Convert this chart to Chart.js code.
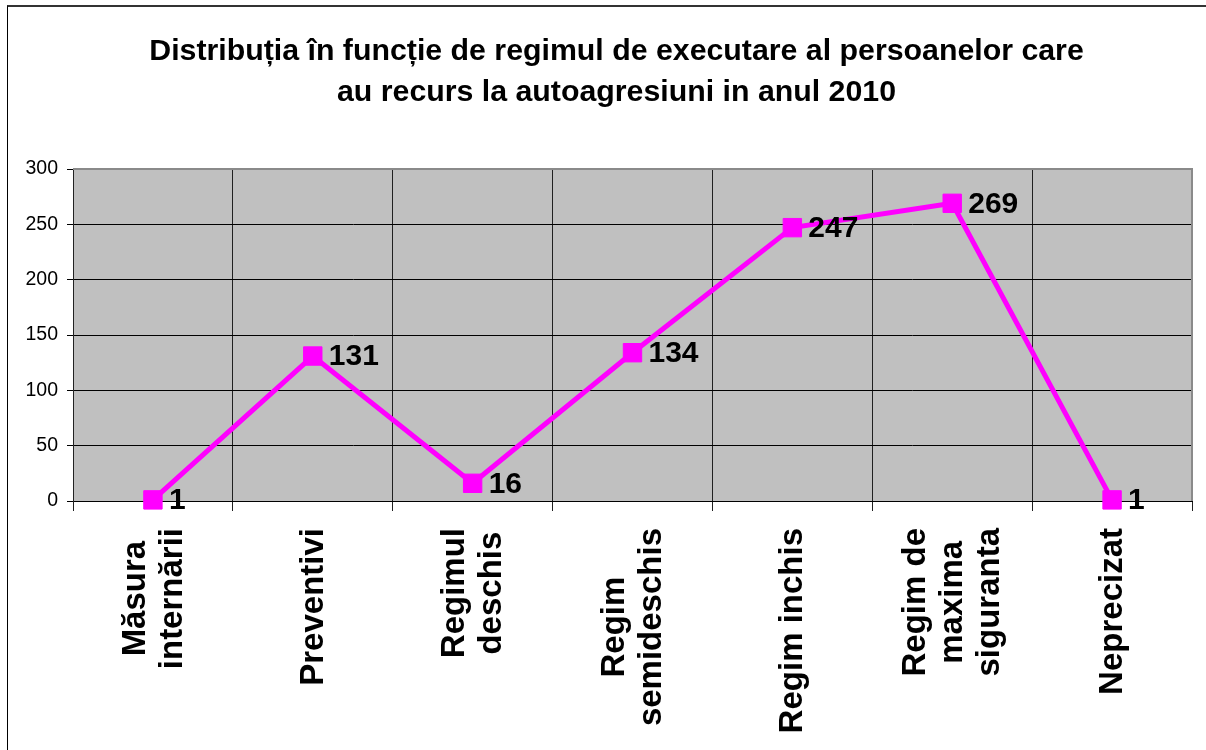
<!DOCTYPE html>
<html lang="ro">
<head>
  <meta charset="UTF-8" />
  <title>Distribuția în funcție de regimul de executare</title>
  <script src="https://cdn.jsdelivr.net/npm/chart.js"></script>
  <style>
    body { margin: 0; background: #fff; overflow: hidden; }
    #wrap { position: relative; width: 1206px; height: 750px; }
    #frame {
      position: absolute; left: 7px; top: 5px; width: 1300px; height: 800px;
      border-top: 2px solid #333; border-left: 1px solid #000;
      pointer-events: none;
    }
  </style>
</head>
<body>
  <div id="wrap">
    <canvas id="chart" width="1206" height="750"></canvas>
    <div id="frame"></div>
  </div>

  <script>
    // date
    const categories = [
      ['Măsura', 'internării'],
      ['Preventivi'],
      ['Regimul', 'deschis'],
      ['Regim', 'semideschis'],
      ['Regim inchis'],
      ['Regim de', 'maxima', 'siguranta'],
      ['Neprecizat']
    ];
    const values = [1, 131, 16, 134, 247, 269, 1];
    const yMin = 0;
    const yMax = 300;
    const yStep = 50;
    const titleLines = [
      'Distribuția în funcție de regimul de executare al persoanelor care',
      'au recurs la autoagresiuni in anul 2010'
    ];

    const FONT = "'Liberation Sans', Arial, sans-serif";

    // fundal gri al zonei de desen + chenar gri sus/dreapta
    const plotBg = {
      id: 'plotBg',
      afterLayout(chart) {
        // titlul e centrat putin mai la dreapta decat panza
        if (chart.titleBlock) chart.titleBlock.left = 39;
      },
      beforeDraw(chart) {
        const { ctx, chartArea: a } = chart;
        ctx.save();
        ctx.fillStyle = '#c0c0c0';
        ctx.fillRect(a.left, a.top, a.width, a.height);
        ctx.restore();
      },
      afterDraw(chart) {
        const { ctx, chartArea: a } = chart;
        ctx.save();
        ctx.strokeStyle = '#8a8a8a';
        ctx.lineWidth = 2;
        ctx.beginPath();
        ctx.moveTo(a.left, a.top);
        ctx.lineTo(a.right, a.top);
        ctx.lineTo(a.right, a.bottom);
        ctx.stroke();
        ctx.restore();
      }
    };

    // valorile langa puncte
    const pointLabels = {
      id: 'pointLabels',
      afterDatasetsDraw(chart) {
        const ctx = chart.ctx;
        const meta = chart.getDatasetMeta(0);
        ctx.save();
        ctx.font = 'bold 30px ' + FONT;
        ctx.fillStyle = '#000';
        ctx.textAlign = 'left';
        ctx.textBaseline = 'middle';
        meta.data.forEach((pt, i) => {
          ctx.fillText(String(values[i]), pt.x + 16, pt.y + 1);
        });
        ctx.restore();
      }
    };

    // etichetele axei X, rotite, cu randuri centrate
    const xLabels = {
      id: 'xLabels',
      afterDraw(chart) {
        const ctx = chart.ctx;
        const xs = chart.scales.x;
        const top = chart.chartArea.bottom + 27;
        const lh = 37;
        ctx.save();
        ctx.font = 'bold 33px ' + FONT;
        ctx.fillStyle = '#000';
        ctx.textAlign = 'center';
        ctx.textBaseline = 'middle';
        categories.forEach((lines, i) => {
          const maxW = Math.max(...lines.map(l => ctx.measureText(l).width));
          const x = xs.getPixelForValue(i) + 1;
          const yc = top + maxW / 2;
          ctx.save();
          ctx.translate(x, yc);
          ctx.rotate(-Math.PI / 2);
          lines.forEach((l, j) => {
            ctx.fillText(l, 0, (j - (lines.length - 1) / 2) * lh);
          });
          ctx.restore();
        });
        ctx.restore();
      }
    };

    const ctx = document.getElementById('chart').getContext('2d');
    const chart = new Chart(ctx, {
      type: 'line',
      data: {
        labels: categories,
        datasets: [{
          data: values,
          borderColor: '#ff00ff',
          backgroundColor: '#ff00ff',
          borderWidth: 5,
          pointStyle: 'rect',
          pointRadius: 13,
          pointBorderWidth: 1,
          pointBorderColor: '#ff00ff',
          pointBackgroundColor: '#ff00ff',
          tension: 0,
          clip: false
        }]
      },
      options: {
        responsive: false,
        animation: false,
        layout: { padding: { left: 20, right: 12, top: 10, bottom: 0 } },
        plugins: {
          legend: { display: false },
          tooltip: { enabled: false },
          title: {
            display: true,
            text: titleLines,
            color: '#000',
            font: { family: FONT, size: 30.3, weight: 'bold', lineHeight: 41 / 30.3 },
            padding: { top: 21, bottom: 56 }
          }
        },
        scales: {
          x: {
            offset: true,
            grid: { offset: true, color: '#202020', lineWidth: 1, tickLength: 10, drawTicks: true },
            border: { color: '#000', width: 1 },
            ticks: { display: false },
            afterFit(scale) { scale.height = 249; }
          },
          y: {
            min: yMin,
            max: yMax,
            ticks: {
              stepSize: yStep,
              color: '#000',
              padding: 9,
              font: { family: FONT, size: 19.5 }
            },
            grid: { color: '#000', lineWidth: 1, tickLength: 6 },
            border: { color: '#222', width: 1 },
            afterFit(scale) { scale.width = 53; }
          }
        }
      },
      plugins: [plotBg, pointLabels, xLabels]
    });
  </script>
</body>
</html>
